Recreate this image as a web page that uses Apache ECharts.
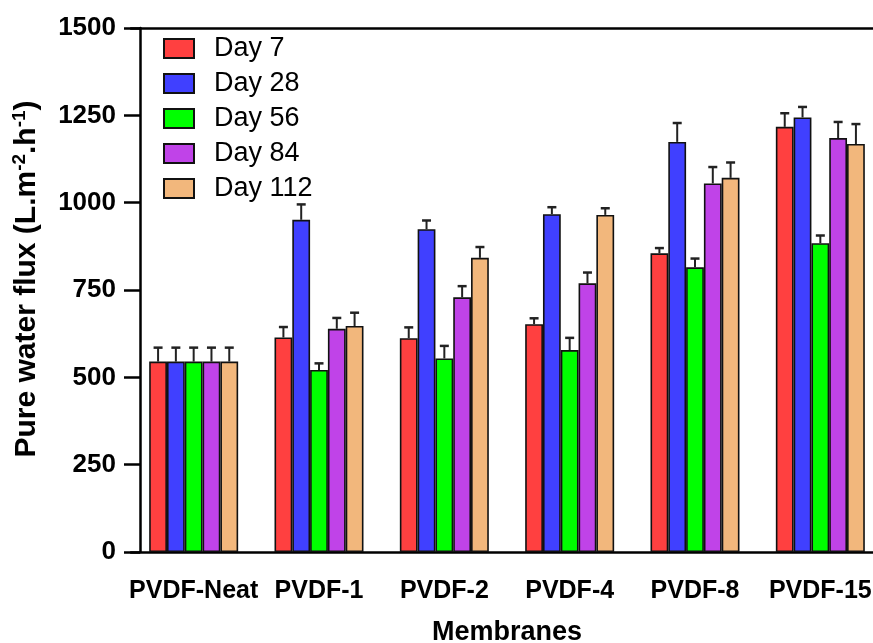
<!DOCTYPE html>
<html>
<head>
<meta charset="utf-8">
<script src="https://cdn.jsdelivr.net/npm/echarts@6/dist/echarts.min.js"></script>
<style>
  html, body { margin: 0; padding: 0; background: #fff; }
  #chart { width: 873px; height: 643px; }
</style>
</head>
<body>
<div id="chart"></div>
<script>
// Membrane categories and the tick labels of the flux axis
const categories = ['PVDF-Neat', 'PVDF-1', 'PVDF-2', 'PVDF-4', 'PVDF-8', 'PVDF-15'];
const seriesNames = ['Day 7', 'Day 28', 'Day 56', 'Day 84', 'Day 112'];
const fluxTicks = [0, 250, 500, 750, 1000, 1250, 1500];

// Mean pure water flux (L.m-2.h-1) per ageing day
const day7   = [545, 614, 612, 652, 855, 1217];
const day28  = [545, 951, 924, 967, 1174, 1244];
const day56  = [545, 521, 554, 578, 815, 884];
const day84  = [545, 639, 729, 769, 1055, 1185];
const day112 = [545, 647, 842, 965, 1071, 1168];

// Standard deviations (upper error bars)
const err7   = [40, 30, 31, 17, 15, 39];
const err28  = [40, 44, 25, 20, 54, 30];
const err56  = [40, 19, 36, 35, 25, 22];
const err84  = [40, 31, 32, 31, 47, 46];
const err112 = [40, 38, 31, 19, 44, 57];

const means = [day7, day28, day56, day84, day112];
const errs = [err7, err28, err56, err84, err112];
const colors = ['#FF4040', '#4040FF', '#00FF00', '#C043E8', '#F2B77C'];

const BAR_FRAC = 0.142;
const FONT = 'Arial, "Liberation Sans", Helvetica, sans-serif';

const barSeries = means.map((vals, k) => ({
  name: seriesNames[k],
  type: 'bar',
  data: vals,
  barWidth: (BAR_FRAC * 100) + '%',
  barGap: '0%',
  itemStyle: { color: colors[k], borderColor: '#111', borderWidth: 1.6 },
  z: 2
}));

const errSeries = means.map((vals, k) => ({
  type: 'custom',
  data: vals.map((v, i) => [i, v, errs[k][i]]),
  z: 3,
  silent: true,
  renderItem: function (params, api) {
    const base = api.coord([api.value(0), api.value(1)]);
    const top = api.coord([api.value(0), api.value(1) + api.value(2)]);
    const band = api.size([1, 0])[0];
    const bw = band * BAR_FRAC;
    const x = base[0] + (k - 2) * bw;
    return {
      type: 'group',
      children: [
        { type: 'line', shape: { x1: x, y1: base[1], x2: x, y2: top[1] },
          style: { stroke: '#222', lineWidth: 2 } },
        { type: 'line', shape: { x1: x - 4.5, y1: top[1], x2: x + 4.5, y2: top[1] },
          style: { stroke: '#222', lineWidth: 2.5 } }
      ]
    };
  }
}));

const chart = echarts.init(document.getElementById('chart'));
chart.setOption({
  animation: false,
  backgroundColor: '#fff',
  textStyle: { fontFamily: FONT },
  grid: { left: 131, right: -10, top: 28, bottom: 91, containLabel: false, outerBoundsMode: 'none' },
  legend: {
    data: seriesNames,
    orient: 'vertical',
    left: 163,
    top: 35,
    padding: 0,
    itemWidth: 30,
    itemHeight: 19,
    itemGap: 8,
    icon: 'rect',
    textStyle: { fontSize: 27, color: '#000', fontFamily: FONT, lineHeight: 25, padding: [0, 0, 0, 15] }
  },
  xAxis: [{
    type: 'category',
    data: categories,
    position: 'bottom',
    axisLine: { lineStyle: { color: '#000', width: 2.5 } },
    axisTick: { alignWithLabel: true, length: 17, lineStyle: { color: '#000', width: 2.5 } },
    axisLabel: { interval: 0, fontSize: 25, fontWeight: 'bold', color: '#000', margin: 27, fontFamily: FONT },
    name: 'Membranes',
    nameLocation: 'middle',
    nameGap: 67,
    nameTextStyle: { fontSize: 27, fontWeight: 'bold', color: '#000', fontFamily: FONT }
  }, {
    type: 'category',
    data: categories,
    position: 'top',
    axisLine: { lineStyle: { color: '#000', width: 2.5 } },
    axisTick: { show: false },
    axisLabel: { show: false }
  }],
  yAxis: {
    type: 'value',
    min: fluxTicks[0],
    max: fluxTicks[fluxTicks.length - 1],
    interval: fluxTicks[1] - fluxTicks[0],
    offset: -9,
    axisLine: { show: true, lineStyle: { color: '#000', width: 2.5 } },
    axisTick: { show: true, length: 16, lineStyle: { color: '#000', width: 2.5 } },
    splitLine: { show: false },
    axisLabel: {
      fontSize: 26, fontWeight: 'bold', color: '#000', margin: 24, fontFamily: FONT,
      formatter: v => String(v)
    },
    name: 'Pure water flux (L.m{sup|-2}.h{sup|-1})',
    nameLocation: 'middle',
    nameGap: 96,
    nameRotate: 90,
    nameTextStyle: {
      fontSize: 30, fontWeight: 'bold', color: '#000', fontFamily: FONT,
      padding: [0, 0, 0, 22],
      rich: {
        sup: { fontSize: 19, fontWeight: 'bold', color: '#000', fontFamily: FONT,
               verticalAlign: 'top', lineHeight: 34, padding: [0, 0, 12, 0] }
      }
    }
  },
  series: barSeries.concat(errSeries)
});
</script>
</body>
</html>
